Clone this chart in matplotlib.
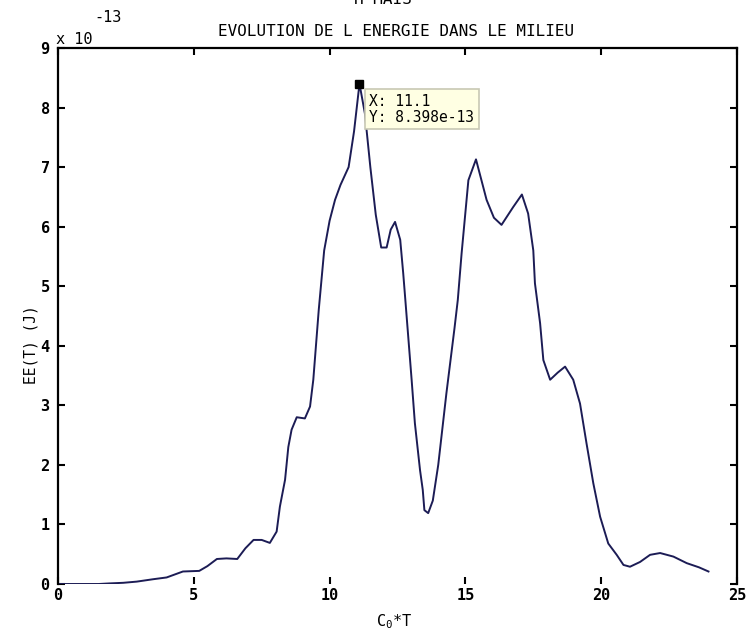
import matplotlib
matplotlib.use("Agg")
import matplotlib.pyplot as plt
import numpy as np

# ---- data (energy in units of 1e-13 J) ----
t = [0, 0.5, 1.0, 1.5, 1.9, 2.4, 2.9, 3.5, 4.0, 4.6, 5.2, 5.5, 5.85, 6.2, 6.6,
     6.9, 7.2, 7.5, 7.8, 8.05, 8.17, 8.36, 8.48, 8.6, 8.79, 9.09, 9.28, 9.4,
     9.6, 9.8, 10.0, 10.2, 10.4, 10.7, 10.9, 11.1, 11.3, 11.5, 11.7, 11.9,
     12.1, 12.25, 12.41, 12.6, 12.71, 12.78, 13.02, 13.14, 13.33, 13.43,
     13.49, 13.63, 13.8, 14.0, 14.3, 14.6, 14.72, 14.86, 15.11, 15.39, 15.78,
     16.05, 16.33, 16.76, 17.08, 17.31, 17.5, 17.56, 17.75, 17.87, 18.12,
     18.4, 18.67, 18.97, 19.22, 19.46, 19.71, 19.96, 20.26, 20.57, 20.82,
     21.06, 21.43, 21.8, 22.17, 22.66, 23.15, 23.6, 23.95]
energy = [0, 0, 0, 0, 0.01, 0.02, 0.04, 0.08, 0.11, 0.21, 0.22, 0.30, 0.42,
          0.43, 0.42, 0.60, 0.74, 0.74, 0.69, 0.88, 1.30, 1.75, 2.30, 2.59,
          2.80, 2.78, 2.98, 3.43, 4.60, 5.60, 6.10, 6.45, 6.70, 7.00, 7.60,
          8.40, 7.90, 7.00, 6.20, 5.65, 5.65, 5.95, 6.08, 5.78, 5.22, 4.82,
          3.43, 2.70, 1.91, 1.58, 1.24, 1.19, 1.40, 2.00, 3.20, 4.30, 4.77,
          5.55, 6.78, 7.13, 6.45, 6.15, 6.03, 6.33, 6.54, 6.22, 5.60, 5.05,
          4.38, 3.76, 3.43, 3.55, 3.65, 3.43, 3.03, 2.36, 1.69, 1.13, 0.68,
          0.49, 0.32, 0.29, 0.37, 0.49, 0.52, 0.46, 0.35, 0.28, 0.21]
scale = 1e-13
xticks = [0, 5, 10, 15, 20, 25]
yticks = [0, 1, 2, 3, 4, 5, 6, 7, 8, 9]
tip_x, tip_y = 11.1, 8.398

plt.rcParams['font.family'] = ['DejaVu Sans Mono']
plt.rcParams['mathtext.default'] = 'regular'

W, H = 746, 639
fig = plt.figure(figsize=(W / 100, H / 100), dpi=100)
ax = fig.add_axes([58 / W, 1 - 584 / H, (737 - 58) / W, (584 - 48) / H])

y = np.array(energy) * scale
ax.plot(t, y, color='#1c1c55', lw=1.4)
ax.set_xlim(0, 25)
ax.set_ylim(0, 9 * scale)
ax.set_xticks(xticks)
ax.set_xticklabels([str(v) for v in xticks], fontweight='bold')
ax.set_yticks([v * scale for v in yticks])
ax.set_yticklabels([str(v) for v in yticks], fontweight='bold')
ax.tick_params(direction='in', length=5, width=1.5, top=True, right=True,
               labelsize=11)
ax.tick_params(axis='x', pad=3)
ax.tick_params(axis='y', pad=6)
for s in ['left', 'right', 'top']:
    ax.spines[s].set_linewidth(1.6)
ax.spines['bottom'].set_visible(False)

# data tip
ax.plot([tip_x], [tip_y * scale], marker='s', color='black', ms=6, ls='none')
ax.annotate('X: 11.1\nY: 8.398e-13', xy=(tip_x, tip_y * scale),
            xytext=(7, -7), textcoords='offset points', ha='left', va='top',
            fontsize=10.5, linespacing=1.1,
            bbox=dict(boxstyle='square,pad=0.3', fc='#ffffe3', ec='#c8c8b4',
                      lw=1.2))

# titles and labels
fig.text(396 / W, 1 - 32 / H, 'EVOLUTION DE L ENERGIE DANS LE MILIEU',
         ha='center', va='center', fontsize=11.5)
fig.text(383 / W, 1 + 1 / H, 'H MAIS', ha='center', va='center', fontsize=11.5)
fig.text(56 / W, 1 - 39 / H, 'x 10', ha='left', va='center', fontsize=11)
fig.text(94 / W, 1 - 17 / H, '-13', ha='left', va='center', fontsize=11)
fig.text(394 / W, 1 - 622 / H, r'C$_0$*T', ha='center', va='center',
         fontsize=11)
fig.text(31 / W, 1 - 345 / H, 'EE(T) (J)', ha='center', va='center',
         rotation=90, fontsize=10.5)

fig.savefig('out.png', dpi=100)
